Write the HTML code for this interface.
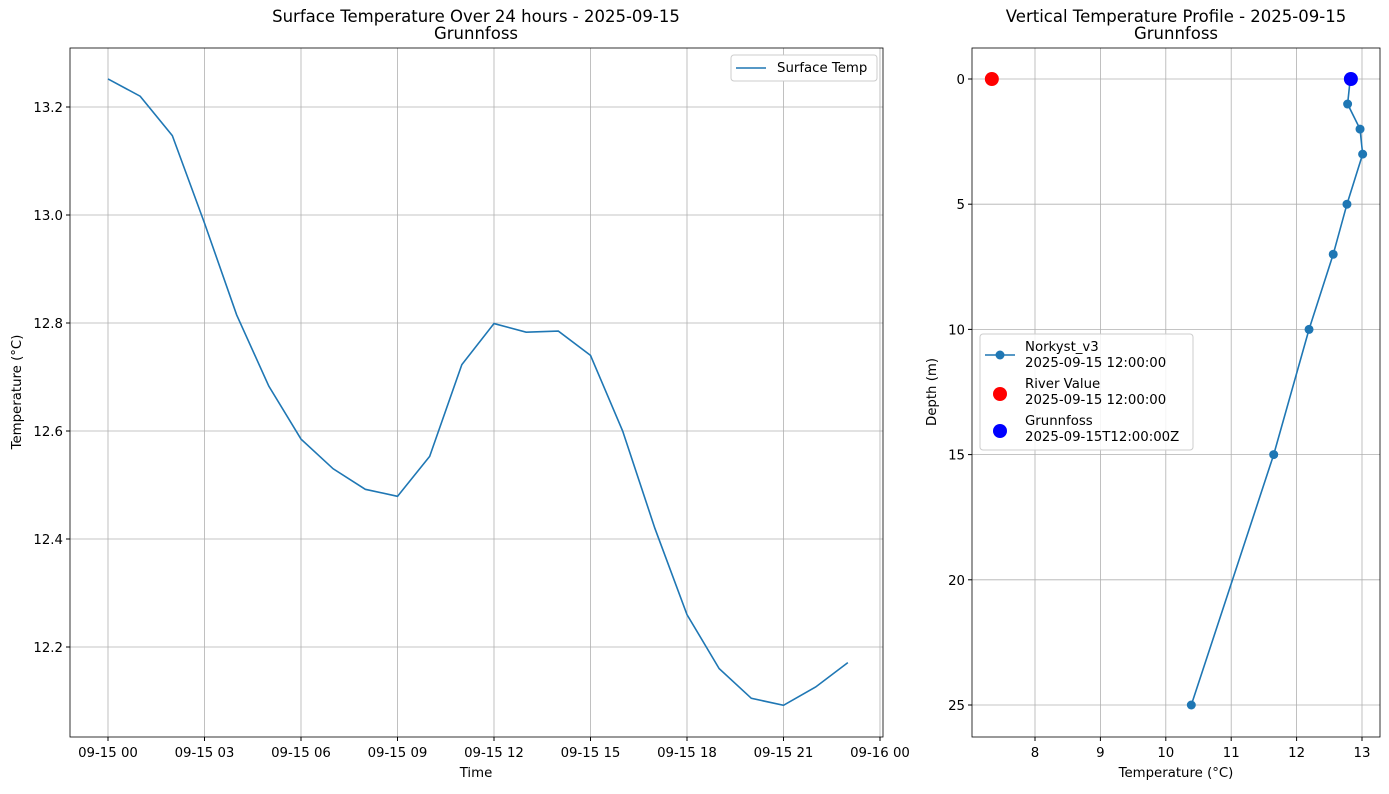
<!DOCTYPE html>
<html><head><meta charset="utf-8"><style>
body{margin:0;background:#fff;font-family:"DejaVu Sans","Liberation Sans",sans-serif;}
svg text{font-family:"DejaVu Sans","Liberation Sans",sans-serif;fill:#000;}
</style></head><body>
<svg id="c" width="1389" height="790" xmlns="http://www.w3.org/2000/svg"></svg>
<script>
const hours=[0,1,2,3,4,5,6,7,8,9,10,11,12,13,14,15,16,17,18,19,20,21,22,23];
const surfTemp=[13.252,13.22,13.147,12.985,12.815,12.683,12.585,12.53,12.492,12.479,12.553,12.723,12.799,12.783,12.785,12.74,12.6,12.42,12.26,12.16,12.105,12.092,12.126,12.171];
const xTickHours=[0,3,6,9,12,15,18,21,24];
const xTickLabels=["09-15 00","09-15 03","09-15 06","09-15 09","09-15 12","09-15 15","09-15 18","09-15 21","09-16 00"];
const yTicks=[12.2,12.4,12.6,12.8,13.0,13.2];
const depths=[0,1,2,3,5,7,10,15,25];
const profTemp=[12.82,12.78,12.97,13.01,12.77,12.56,12.19,11.65,10.39];
const riverTemp=7.34, riverDepth=0;
const obsTemp=12.83, obsDepth=0;
const pxTicks=[8,9,10,11,12,13];
const depthTicks=[0,5,10,15,20,25];

const svg=document.getElementById('c');
const NS='http://www.w3.org/2000/svg';
function el(t,a,txt){const e=document.createElementNS(NS,t);for(const k in a)e.setAttribute(k,a[k]);if(txt!==undefined)e.textContent=txt;svg.appendChild(e);return e;}
const TF=13.3, TT=16.5;
// left axes
const L={x0:70,x1:883,y0:48,y1:737};
const lx=h=>108+h*(880-108)/24;
const ly=v=>647-(v-12.2)*540;
let g;
xTickHours.forEach((h,i)=>{
 g=el('line',{x1:lx(h),x2:lx(h),y1:L.y0,y2:L.y1,stroke:'#b0b0b0','stroke-width':0.8});
 
 el('line',{x1:lx(h),x2:lx(h),y1:L.y1,y2:L.y1+4,stroke:'#000'});
 g=el('text',{x:lx(h),y:L.y1+20,'font-size':TF,'text-anchor':'middle'},xTickLabels[i]);
 
});
yTicks.forEach(v=>{
 g=el('line',{x1:L.x0,x2:L.x1,y1:ly(v),y2:ly(v),stroke:'#b0b0b0','stroke-width':0.8});
 
 el('line',{x1:L.x0-4,x2:L.x0,y1:ly(v),y2:ly(v),stroke:'#000'});
 g=el('text',{x:L.x0-7,y:ly(v)+5,'font-size':TF,'text-anchor':'end'},v.toFixed(1));
 
});
g=el('polyline',{points:hours.map((h,i)=>lx(h)+','+ly(surfTemp[i])).join(' '),fill:'none',stroke:'#1f77b4','stroke-width':1.6});

g=el('rect',{x:L.x0,y:L.y0,width:L.x1-L.x0,height:L.y1-L.y0,fill:'none',stroke:'#000','stroke-width':0.8});

g=el('text',{x:476,y:22,'font-size':TT,'text-anchor':'middle'},'Surface Temperature Over 24 hours - 2025-09-15');

g=el('text',{x:476,y:39,'font-size':TT,'text-anchor':'middle'},'Grunnfoss');

g=el('text',{x:476,y:777,'font-size':TF,'text-anchor':'middle'},'Time');

g=el('text',{x:21,y:392,'font-size':TF,'text-anchor':'middle',transform:'rotate(-90 21 392)'},'Temperature (°C)');

g=el('rect',{x:731,y:55,width:146,height:26,fill:'#fff',stroke:'#ccc',rx:3});

el('line',{x1:736,x2:766,y1:68,y2:68,stroke:'#1f77b4','stroke-width':1.6});
g=el('text',{x:777,y:72,'font-size':TF},'Surface Temp');


// right axes
const R={x0:972,x1:1380,y0:48,y1:737};
const rx=t=>1035+(t-8)*65.4;
const ry=d=>79+d*25.04;
pxTicks.forEach(t=>{
 g=el('line',{x1:rx(t),x2:rx(t),y1:R.y0,y2:R.y1,stroke:'#b0b0b0','stroke-width':0.8});
 
 el('line',{x1:rx(t),x2:rx(t),y1:R.y1,y2:R.y1+4,stroke:'#000'});
 g=el('text',{x:rx(t),y:R.y1+20,'font-size':TF,'text-anchor':'middle'},t);
 
});
depthTicks.forEach(d=>{
 g=el('line',{x1:R.x0,x2:R.x1,y1:ry(d),y2:ry(d),stroke:'#b0b0b0','stroke-width':0.8});
 
 el('line',{x1:R.x0-4,x2:R.x0,y1:ry(d),y2:ry(d),stroke:'#000'});
 g=el('text',{x:R.x0-7,y:ry(d)+5,'font-size':TF,'text-anchor':'end'},d);
 
});
g=el('polyline',{points:depths.map((d,i)=>rx(profTemp[i])+','+ry(d)).join(' '),fill:'none',stroke:'#1f77b4','stroke-width':1.6});

depths.forEach((d,i)=>{
 g=el('circle',{cx:rx(profTemp[i]),cy:ry(d),r:4.5,fill:'#1f77b4'});
 
});
g=el('circle',{cx:rx(riverTemp),cy:ry(riverDepth),r:7,fill:'#ff0000'});

g=el('circle',{cx:rx(obsTemp),cy:ry(obsDepth),r:7,fill:'#0000ff'});

g=el('rect',{x:R.x0,y:R.y0,width:R.x1-R.x0,height:R.y1-R.y0,fill:'none',stroke:'#000','stroke-width':0.8});

g=el('text',{x:1176,y:22,'font-size':TT,'text-anchor':'middle'},'Vertical Temperature Profile - 2025-09-15');

g=el('text',{x:1176,y:39,'font-size':TT,'text-anchor':'middle'},'Grunnfoss');

g=el('text',{x:1176,y:777,'font-size':TF,'text-anchor':'middle'},'Temperature (°C)');

g=el('text',{x:936,y:392,'font-size':TF,'text-anchor':'middle',transform:'rotate(-90 936 392)'},'Depth (m)');

g=el('rect',{x:980,y:334,width:213,height:116,fill:'#fff','fill-opacity':0.85,stroke:'#ccc',rx:3});

el('line',{x1:985,x2:1015,y1:355,y2:355,stroke:'#1f77b4','stroke-width':1.6});
el('circle',{cx:1000,cy:355,r:4.5,fill:'#1f77b4'});
el('circle',{cx:1000,cy:394,r:7,fill:'#ff0000'});
el('circle',{cx:1000,cy:431,r:7,fill:'#0000ff'});
[['Norkyst_v3',351],['2025-09-15 12:00:00',367],['River Value',388],['2025-09-15 12:00:00',404],['Grunnfoss',425],['2025-09-15T12:00:00Z',441]].forEach(a=>{
 g=el('text',{x:1025,y:a[1],'font-size':TF},a[0]);
 
});
</script>
</body></html>
